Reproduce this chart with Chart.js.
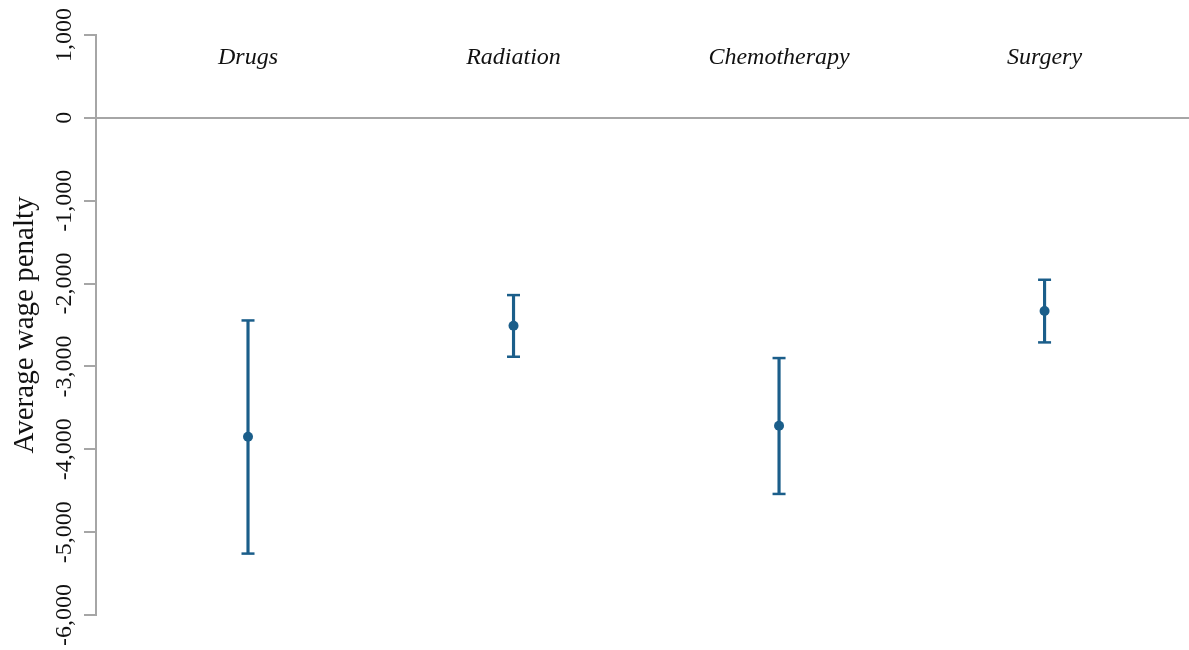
<!DOCTYPE html>
<html>
<head>
<meta charset="utf-8">
<title>Average wage penalty by treatment</title>
<script src="https://cdn.jsdelivr.net/npm/chart.js@4.4.1/dist/chart.umd.min.js"></script>
<style>
  html, body { margin: 0; padding: 0; background: #fff; }
  #wrap { width: 1189px; height: 650px; position: relative; }
</style>
</head>
<body>
<div id="wrap"><canvas id="penalty-chart"></canvas></div>
<script>
/* ── data ───────────────────────────────────────────────── */
const categories = ['Drugs', 'Radiation', 'Chemotherapy', 'Surgery'];
const estimate   = [-3848, -2509, -3715, -2332];
const lower      = [-5259, -2883, -4539, -2710];
const upper      = [-2445, -2139, -2899, -1954];
const yTicks     = [-6000, -5000, -4000, -3000, -2000, -1000, 0, 1000];

const BLUE  = '#1b5e8a';
const GREY  = '#a6a6a6';
const SERIF = '"Liberation Serif", "Times New Roman", serif';

const xs = categories.map((_, i) => i + 1);

// category names sit inside the plot, near the top
const categoryLabels = {
  id: 'categoryLabels',
  afterDatasetsDraw(chart) {
    const { ctx, chartArea, scales: { x } } = chart;
    ctx.save();
    ctx.font = `italic 24px ${SERIF}`;
    ctx.fillStyle = '#111';
    ctx.textAlign = 'center';
    ctx.textBaseline = 'middle';
    categories.forEach((c, i) => ctx.fillText(c, x.getPixelForValue(xs[i]), chartArea.top + 23));
    ctx.restore();
  },
};

new Chart(document.getElementById('penalty-chart'), {
  type: 'scatter',
  data: {
    datasets: [
      {
        type: 'bar',
        label: 'CI',
        data: xs.map((x, i) => ({ x, y: [lower[i], upper[i]] })),
        backgroundColor: BLUE,
        barThickness: 2.5,
        borderWidth: 0,
      },
      {
        label: 'Upper',
        data: xs.map((x, i) => ({ x, y: upper[i] })),
        pointStyle: 'line', pointRadius: 6.5, borderColor: BLUE, borderWidth: 2.5,
      },
      {
        label: 'Lower',
        data: xs.map((x, i) => ({ x, y: lower[i] })),
        pointStyle: 'line', pointRadius: 6.5, borderColor: BLUE, borderWidth: 2.5,
      },
      {
        label: 'Estimate',
        data: xs.map((x, i) => ({ x, y: estimate[i] })),
        pointStyle: 'circle', pointRadius: 5, backgroundColor: BLUE, borderColor: BLUE, borderWidth: 0,
      },
    ],
  },
  options: {
    responsive: true, maintainAspectRatio: false, animation: false,
    layout: { autoPadding: false, padding: { top: 35, bottom: 35, left: 0, right: 0 } },
    plugins: { legend: { display: false }, tooltip: { enabled: false } },
    scales: {
      x: {
        type: 'linear', display: false, offset: false,
        min: 0.4275, max: 4.544,
        grid: { display: false },
      },
      y: {
        min: -6000, max: 1000,
        afterFit: s => { s.width = 96; },
        afterBuildTicks: s => { s.ticks = yTicks.map(v => ({ value: v })); },
        border: { display: true, color: GREY, width: 2 },
        grid: {
          color: c => (c.tick && c.tick.value === 0 ? GREY : 'rgba(0,0,0,0)'),
          lineWidth: 2, tickLength: 12, tickColor: GREY, tickWidth: 2,
        },
        ticks: {
          minRotation: 90, maxRotation: 90, crossAlign: 'center', padding: -12,
          color: '#111', font: { family: SERIF, size: 24 },
          callback: v => v.toLocaleString('en-US'),
        },
        title: {
          display: true, text: 'Average wage penalty', color: '#111',
          font: { family: SERIF, size: 29 }, padding: { top: 8, bottom: 0 },
        },
      },
    },
  },
  plugins: [categoryLabels],
});
</script>
</body>
</html>
